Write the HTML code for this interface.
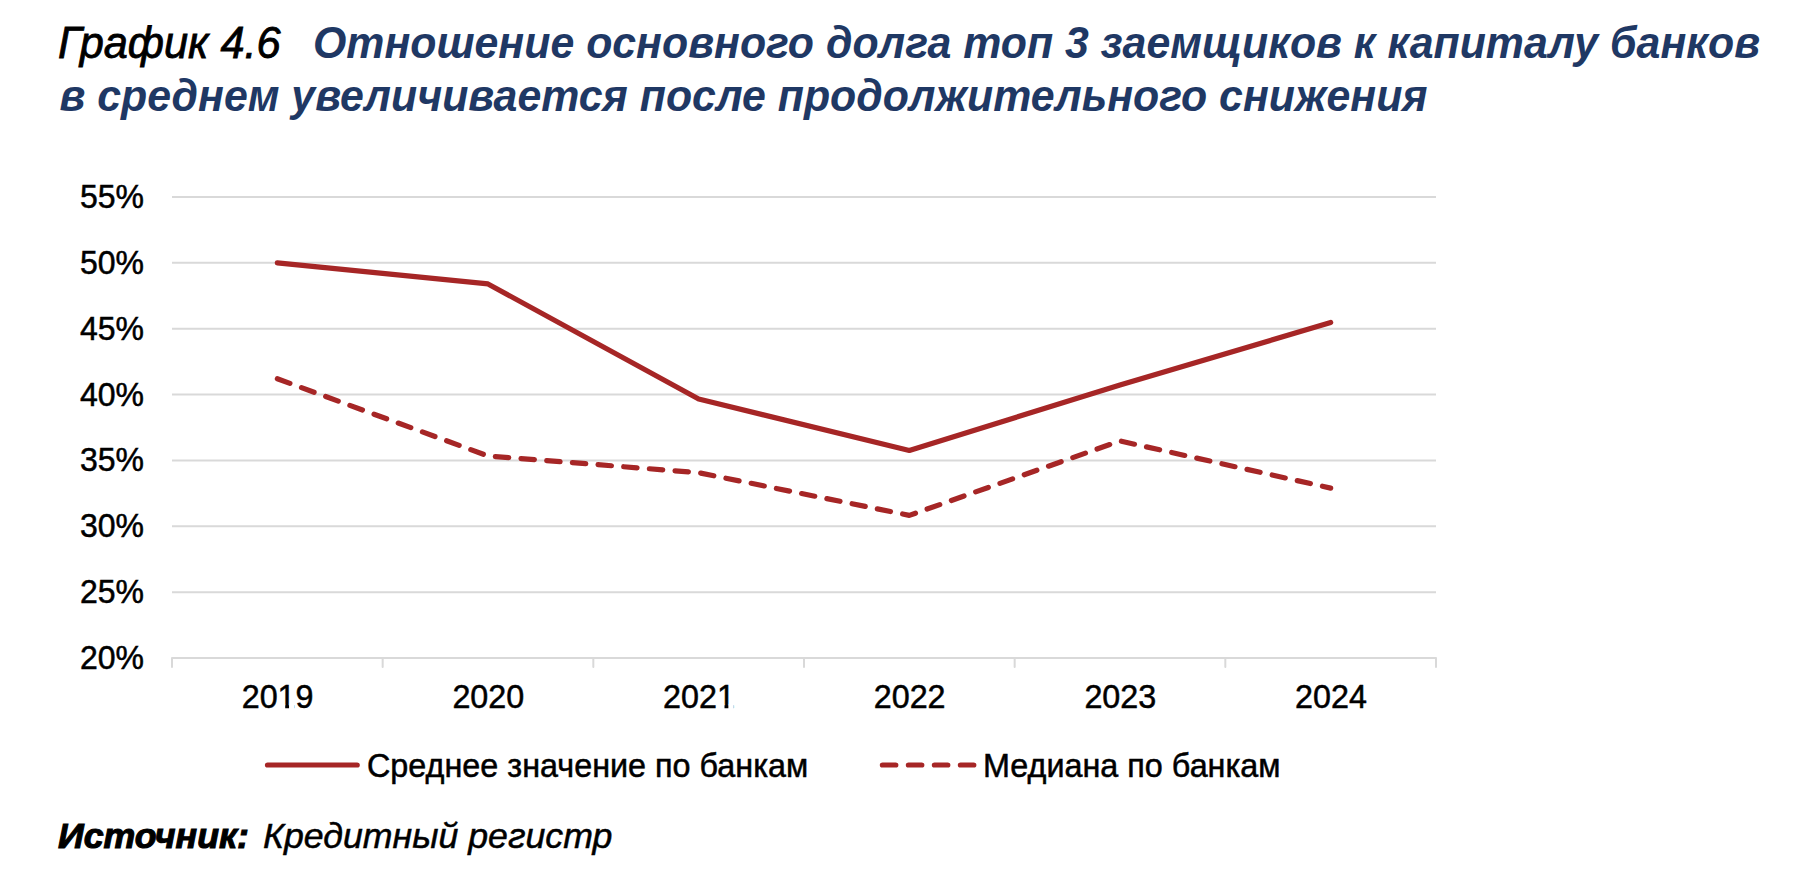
<!DOCTYPE html>
<html><head><meta charset="utf-8"><style>
html,body{margin:0;padding:0;background:#fff;width:1813px;height:875px;overflow:hidden}
svg{display:block}
text{font-family:"Liberation Sans",sans-serif}
</style></head><body>
<svg width="1813" height="875" viewBox="0 0 1813 875">
<rect width="1813" height="875" fill="#fff"/>
<text x="58.00" y="58.00" transform="matrix(1,0,0,1.04,0,-2.320)" fill="#000" stroke="#000" stroke-width="0.5" font-size="42.85" font-style="italic"><tspan stroke-width="0.8" font-size="43.3">График 4.6</tspan><tspan x="313" font-weight="bold" fill="#1F3864" stroke="#1F3864" stroke-width="0">Отношение основного долга топ 3 заемщиков к капиталу банков</tspan></text>
<text x="59.50" y="111.00" transform="matrix(1,0,0,1.04,0,-4.440)" fill="#1F3864" stroke="#1F3864" stroke-width="0" font-size="42.85" font-style="italic" font-weight="bold">в среднем увеличивается после продолжительного снижения</text>
<g stroke="#D9D9D9" stroke-width="2"><line x1="172.0" y1="592.14" x2="1436.0" y2="592.14"/><line x1="172.0" y1="526.29" x2="1436.0" y2="526.29"/><line x1="172.0" y1="460.43" x2="1436.0" y2="460.43"/><line x1="172.0" y1="394.57" x2="1436.0" y2="394.57"/><line x1="172.0" y1="328.71" x2="1436.0" y2="328.71"/><line x1="172.0" y1="262.86" x2="1436.0" y2="262.86"/><line x1="172.0" y1="197.00" x2="1436.0" y2="197.00"/><path fill="none" stroke-linecap="round" stroke-linejoin="round" d="M172.0,667 L172.0,658.0 L1436.0,658.0 L1436.0,667 M382.67,658.0 L382.67,667 M593.33,658.0 L593.33,667 M804.00,658.0 L804.00,667 M1014.67,658.0 L1014.67,667 M1225.33,658.0 L1225.33,667"/></g>
<text x="144.00" y="669.00" transform="matrix(1,0,0,1.04,0,-26.760)" fill="#000" stroke="#000" stroke-width="0.5" text-anchor="end" font-size="32">20%</text><text x="144.00" y="603.14" transform="matrix(1,0,0,1.04,0,-24.126)" fill="#000" stroke="#000" stroke-width="0.5" text-anchor="end" font-size="32">25%</text><text x="144.00" y="537.29" transform="matrix(1,0,0,1.04,0,-21.491)" fill="#000" stroke="#000" stroke-width="0.5" text-anchor="end" font-size="32">30%</text><text x="144.00" y="471.43" transform="matrix(1,0,0,1.04,0,-18.857)" fill="#000" stroke="#000" stroke-width="0.5" text-anchor="end" font-size="32">35%</text><text x="144.00" y="405.57" transform="matrix(1,0,0,1.04,0,-16.223)" fill="#000" stroke="#000" stroke-width="0.5" text-anchor="end" font-size="32">40%</text><text x="144.00" y="339.71" transform="matrix(1,0,0,1.04,0,-13.589)" fill="#000" stroke="#000" stroke-width="0.5" text-anchor="end" font-size="32">45%</text><text x="144.00" y="273.86" transform="matrix(1,0,0,1.04,0,-10.954)" fill="#000" stroke="#000" stroke-width="0.5" text-anchor="end" font-size="32">50%</text><text x="144.00" y="208.00" transform="matrix(1,0,0,1.04,0,-8.320)" fill="#000" stroke="#000" stroke-width="0.5" text-anchor="end" font-size="32">55%</text><text x="277.63" y="708.00" transform="matrix(1,0,0,1.04,0,-28.320)" fill="#000" stroke="#000" stroke-width="0.5" text-anchor="middle" font-size="32.3">2019</text><text x="488.30" y="708.00" transform="matrix(1,0,0,1.04,0,-28.320)" fill="#000" stroke="#000" stroke-width="0.5" text-anchor="middle" font-size="32.3">2020</text><text x="698.97" y="708.00" transform="matrix(1,0,0,1.04,0,-28.320)" fill="#000" stroke="#000" stroke-width="0.5" text-anchor="middle" font-size="32.3">2021</text><text x="909.63" y="708.00" transform="matrix(1,0,0,1.04,0,-28.320)" fill="#000" stroke="#000" stroke-width="0.5" text-anchor="middle" font-size="32.3">2022</text><text x="1120.30" y="708.00" transform="matrix(1,0,0,1.04,0,-28.320)" fill="#000" stroke="#000" stroke-width="0.5" text-anchor="middle" font-size="32.3">2023</text><text x="1330.97" y="708.00" transform="matrix(1,0,0,1.04,0,-28.320)" fill="#000" stroke="#000" stroke-width="0.5" text-anchor="middle" font-size="32.3">2024</text>
<path d="M277.33,262.86 L488.00,283.93 L698.67,399.05 L909.33,450.42 L1120.00,385.09 L1330.67,322.52" fill="none" stroke="#A62626" stroke-width="5.2" stroke-linecap="round" stroke-linejoin="round"/>
<path d="M277.33,378.77 L488.00,455.95 L698.67,472.68 L909.33,515.35 L1120.00,440.93 L1330.67,488.09" fill="none" stroke="#A62626" stroke-width="5.2" stroke-linecap="round" stroke-linejoin="round" stroke-dasharray="13.40 12.35"/>
<line x1="267.50" y1="765" x2="357.20" y2="765" stroke="#A62626" stroke-width="5.2" stroke-linecap="round"/>
<line x1="882.40" y1="765" x2="974.00" y2="765" stroke="#A62626" stroke-width="5.2" stroke-linecap="round" stroke-dasharray="13.40 12.60"/>
<rect x="278.60" y="704.6" width="6.6" height="4.6" fill="#fff"/><rect x="289.05" y="704.6" width="5.4" height="4.6" fill="#fff"/><rect x="717.90" y="704.6" width="6.6" height="4.6" fill="#fff"/><rect x="728.35" y="704.6" width="5.4" height="4.6" fill="#fff"/>
<text x="367.00" y="777.00" transform="matrix(1,0,0,1.04,0,-31.080)" fill="#000" stroke="#000" stroke-width="0.5" font-size="32.35">Среднее значение по банкам</text>
<text x="983.00" y="777.00" transform="matrix(1,0,0,1.04,0,-31.080)" fill="#000" stroke="#000" stroke-width="0.5" font-size="32.35">Медиана по банкам</text>
<text x="58.00" y="848.00" transform="matrix(1,0,0,0.99,0,8.480)" fill="#000" stroke="#000" stroke-width="0.5" font-size="35.7" font-style="italic"><tspan font-weight="bold" stroke-width="1.1">Источник:</tspan><tspan dx="4"> Кредитный регистр</tspan></text>
</svg>
</body></html>
